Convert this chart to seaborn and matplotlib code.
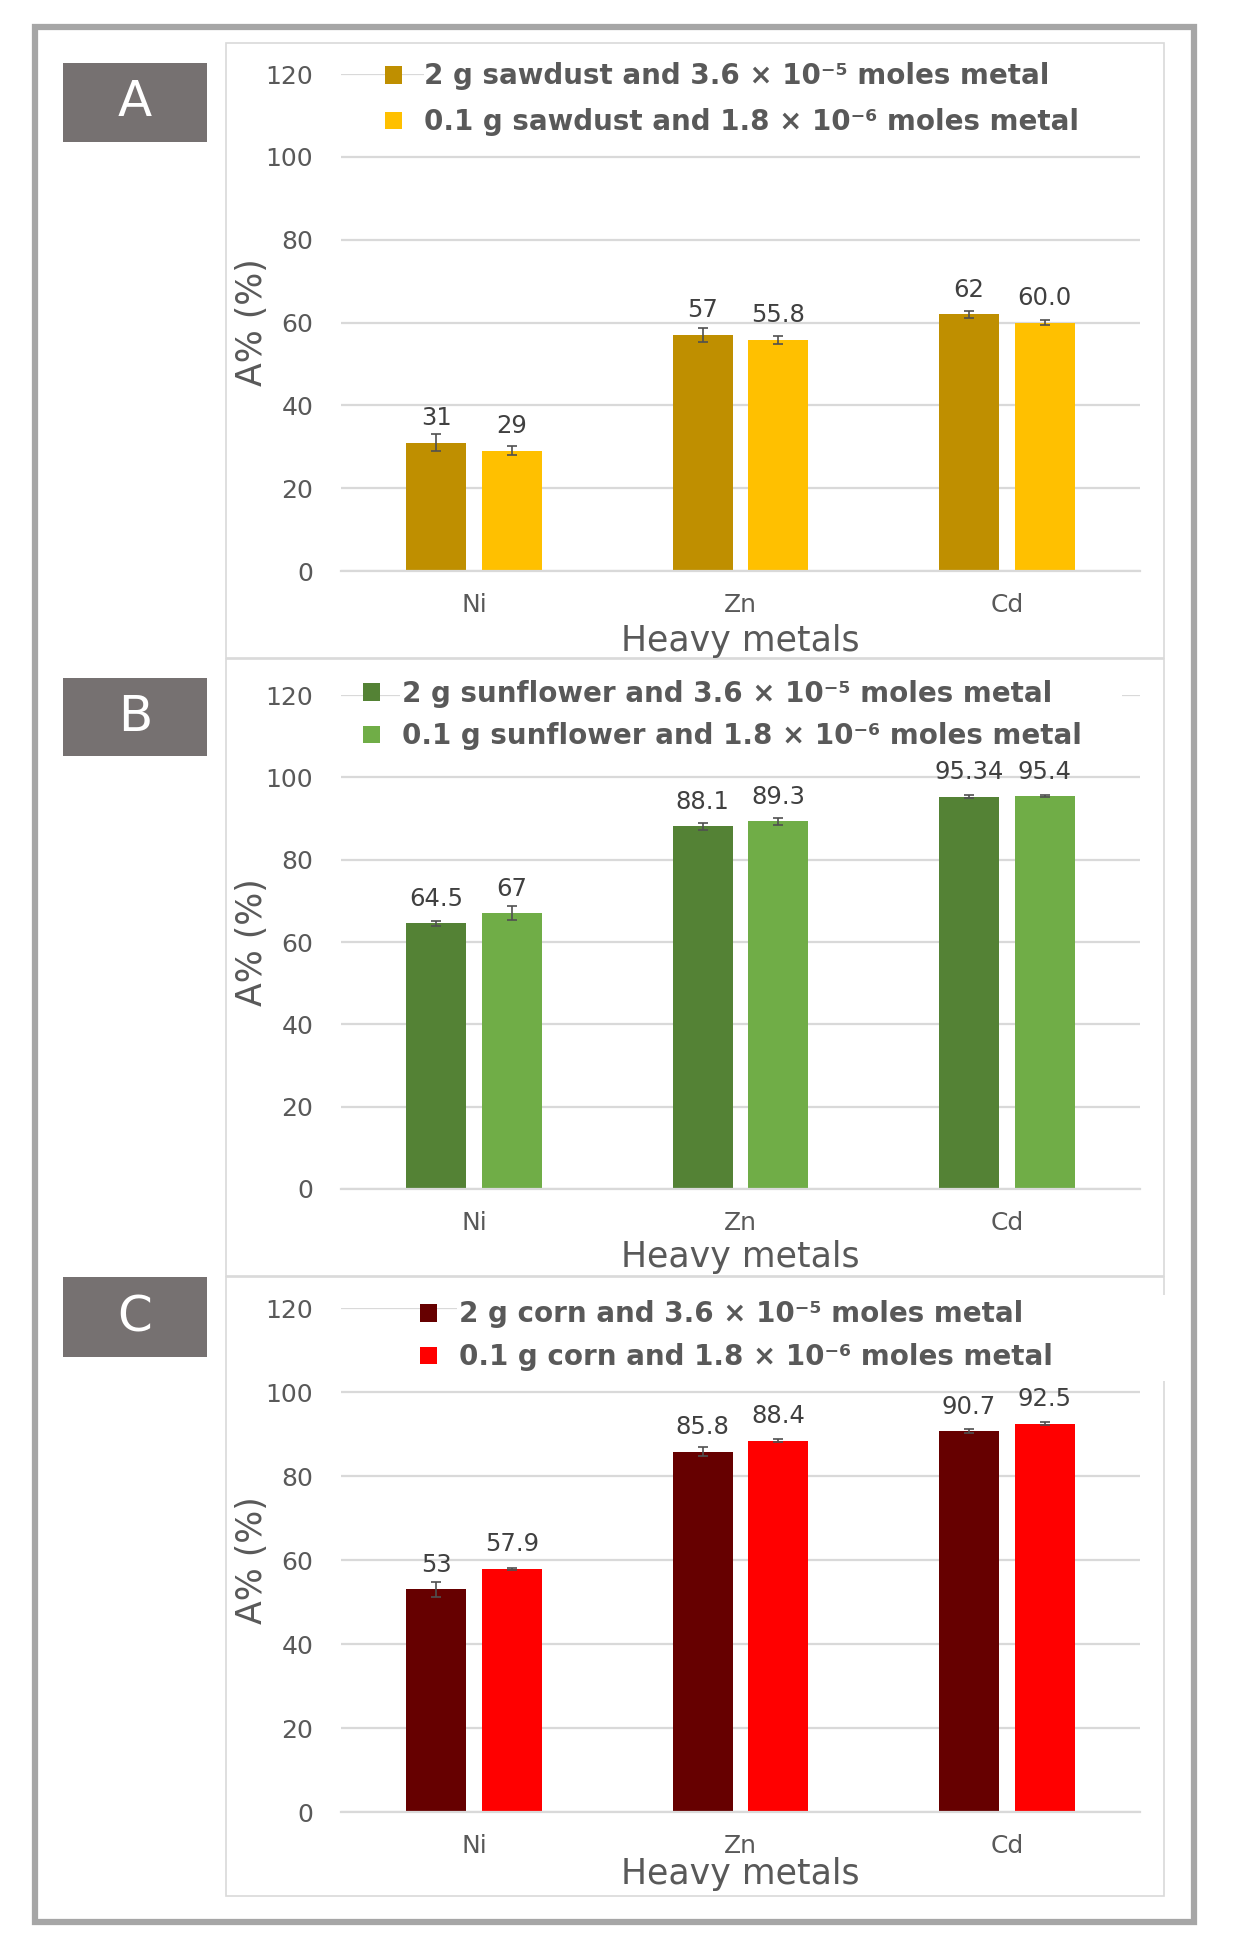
import numpy as np
import pandas as pd
import matplotlib
matplotlib.use("Agg")
import matplotlib.pyplot as plt
import seaborn as sns
from matplotlib.patches import Rectangle

# ---------------- data ----------------
metals = ["Ni", "Zn", "Cd"]

a_series = ["2 g sawdust and 3.6 × 10⁻⁵ moles metal",
            "0.1 g sawdust and 1.8 × 10⁻⁶ moles metal"]
a_high = [31, 57, 62]
a_low = [29, 55.8, 60.0]
a_high_err = [2.1, 1.65, 0.85]
a_low_err = [1.1, 0.9, 0.6]
a_high_lbl = ["31", "57", "62"]
a_low_lbl = ["29", "55.8", "60.0"]

b_series = ["2 g sunflower and 3.6 × 10⁻⁵ moles metal",
            "0.1 g sunflower and 1.8 × 10⁻⁶ moles metal"]
b_high = [64.5, 88.1, 95.34]
b_low = [67, 89.3, 95.4]
b_high_err = [0.7, 0.8, 0.25]
b_low_err = [1.75, 0.8, 0.25]
b_high_lbl = ["64.5", "88.1", "95.34"]
b_low_lbl = ["67", "89.3", "95.4"]

c_series = ["2 g corn and 3.6 × 10⁻⁵ moles metal",
            "0.1 g corn and 1.8 × 10⁻⁶ moles metal"]
c_high = [53, 85.8, 90.7]
c_low = [57.9, 88.4, 92.5]
c_high_err = [1.8, 1.15, 0.5]
c_low_err = [0.3, 0.3, 0.25]
c_high_lbl = ["53", "85.8", "90.7"]
c_low_lbl = ["57.9", "88.4", "92.5"]

y_ticks = [0, 20, 40, 60, 80, 100, 120]
x_title = "Heavy metals"
y_title = "A% (%)"

# ---------------- style ----------------
sns.set_style("white")
plt.rcParams["font.family"] = ["DejaVu Sans"]

W, H = 1234, 1946
fig = plt.figure(figsize=(W / 100, H / 100), dpi=100)
fig.patch.set_facecolor("white")


def fx(p):
    return p / W


def fy(p):
    return 1 - p / H


GRID = "#D9D9D9"
TXT = "#595959"
LBL = "#404040"

panels = [
    dict(letter="A", series=a_series, vals=(a_high, a_low), errs=(a_high_err, a_low_err),
         lbls=(a_high_lbl, a_low_lbl), colors=("#BF8F00", "#FFC000"),
         y0=571, y120=74, box=(43, 658), lab=(63, 142),
         leg=(385, 62.5), lsp=0.64, leg_white=(424, 1145), xlab=641),
    dict(letter="B", series=b_series, vals=(b_high, b_low), errs=(b_high_err, b_low_err),
         lbls=(b_high_lbl, b_low_lbl), colors=("#548235", "#70AD47"),
         y0=1189, y120=695, box=(659, 1276), lab=(678, 756),
         leg=(363, 679.5), lsp=0.53, leg_white=(400, 1122), xlab=1257),
    dict(letter="C", series=c_series, vals=(c_high, c_low), errs=(c_high_err, c_low_err),
         lbls=(c_high_lbl, c_low_lbl), colors=("#660000", "#FF0000"),
         y0=1812, y120=1308, box=(1277, 1896), lab=(1277, 1357),
         leg=(420, 1300.5), lsp=0.53, leg_white=(457, 1175), xlab=1874),
]

# outer frame
fig.patches.append(Rectangle((fx(35), fy(1922)), fx(1194) - fx(35), (1922 - 27) / H,
                             transform=fig.transFigure, fill=False,
                             edgecolor="#A6A6A6", linewidth=4.5, zorder=-2))

AX_L, AX_R = 341, 1140

for p in panels:
    # panel box
    b0, b1 = p["box"]
    fig.patches.append(Rectangle((fx(226), fy(b1)), fx(1164) - fx(226), (b1 - b0) / H,
                                 transform=fig.transFigure, fill=False,
                                 edgecolor=GRID, linewidth=1.2, zorder=-1))
    # panel letter
    l0, l1 = p["lab"]
    fig.patches.append(Rectangle((fx(63), fy(l1)), fx(207) - fx(63), (l1 - l0) / H,
                                 transform=fig.transFigure, facecolor="#767171",
                                 edgecolor="none", zorder=-1))
    fig.text(fx(135), fy((l0 + l1) / 2), p["letter"], color="white", fontsize=36,
             ha="center", va="center")

    ax = fig.add_axes([fx(AX_L), fy(p["y0"]), (AX_R - AX_L) / W, (p["y0"] - p["y120"]) / H])
    df = pd.DataFrame({
        "metal": metals * 2,
        "series": [p["series"][0]] * 3 + [p["series"][1]] * 3,
        "value": list(p["vals"][0]) + list(p["vals"][1]),
    })
    sns.barplot(data=df, x="metal", y="value", hue="series", hue_order=p["series"],
                palette=list(p["colors"]), saturation=1, width=0.57, gap=0.21,
                errorbar=None, linewidth=0, ax=ax)

    for cont, err, lab in zip(ax.containers, p["errs"], p["lbls"]):
        xs = [r.get_x() + r.get_width() / 2 for r in cont]
        hs = [r.get_height() for r in cont]
        ax.errorbar(xs, hs, yerr=err, fmt="none", ecolor="#505050",
                    elinewidth=1.2, capsize=3.6, capthick=1.2, zorder=3)
        ax.bar_label(cont, labels=lab, padding=9, fontsize=17.5, color=LBL)

    ax.set_xlim(-0.5, 2.5)
    ax.set_ylim(0, 120)
    ax.set_yticks(y_ticks)
    ax.yaxis.grid(True, color=GRID, linewidth=1.6)
    ax.set_axisbelow(True)
    for s in ["top", "right", "left"]:
        ax.spines[s].set_visible(False)
    ax.spines["bottom"].set_color(GRID)
    ax.spines["bottom"].set_linewidth(1.6)
    ax.tick_params(axis="y", length=0, labelsize=18, labelcolor=TXT, pad=20)
    ax.tick_params(axis="x", length=0, labelsize=18, labelcolor=TXT, pad=16)

    ax.set_xlabel(x_title, fontsize=25, color=TXT)
    ax.set_ylabel(y_title, fontsize=25, color=TXT)
    hpx = p["y0"] - p["y120"]
    ax.xaxis.set_label_coords(0.5, -(p["xlab"] - p["y0"]) / hpx)
    ax.xaxis.label.set_va("center")
    ax.yaxis.set_label_coords((252 - AX_L) / (AX_R - AX_L), 0.5)
    ax.yaxis.label.set_va("center")

    # white backdrop behind legend text
    wx0, wx1 = p["leg_white"]
    ly = p["leg"][1]
    ax.add_patch(Rectangle((fx(wx0), fy(ly + 80)), (wx1 - wx0) / W, 86 / H,
                           transform=fig.transFigure, facecolor="white",
                           edgecolor="none", zorder=1.5, clip_on=False))

    handles, labels = ax.get_legend_handles_labels()
    ax.legend(handles, labels, loc="upper left",
              bbox_to_anchor=(fx(p["leg"][0]), fy(p["leg"][1])),
              bbox_transform=fig.transFigure, frameon=False, borderpad=0,
              borderaxespad=0, handlelength=0.6, handleheight=0.6,
              handletextpad=0.8, labelspacing=p["lsp"],
              prop=dict(weight="bold", size=20), labelcolor=TXT)

fig.savefig("out.png", dpi=100, facecolor="white")
